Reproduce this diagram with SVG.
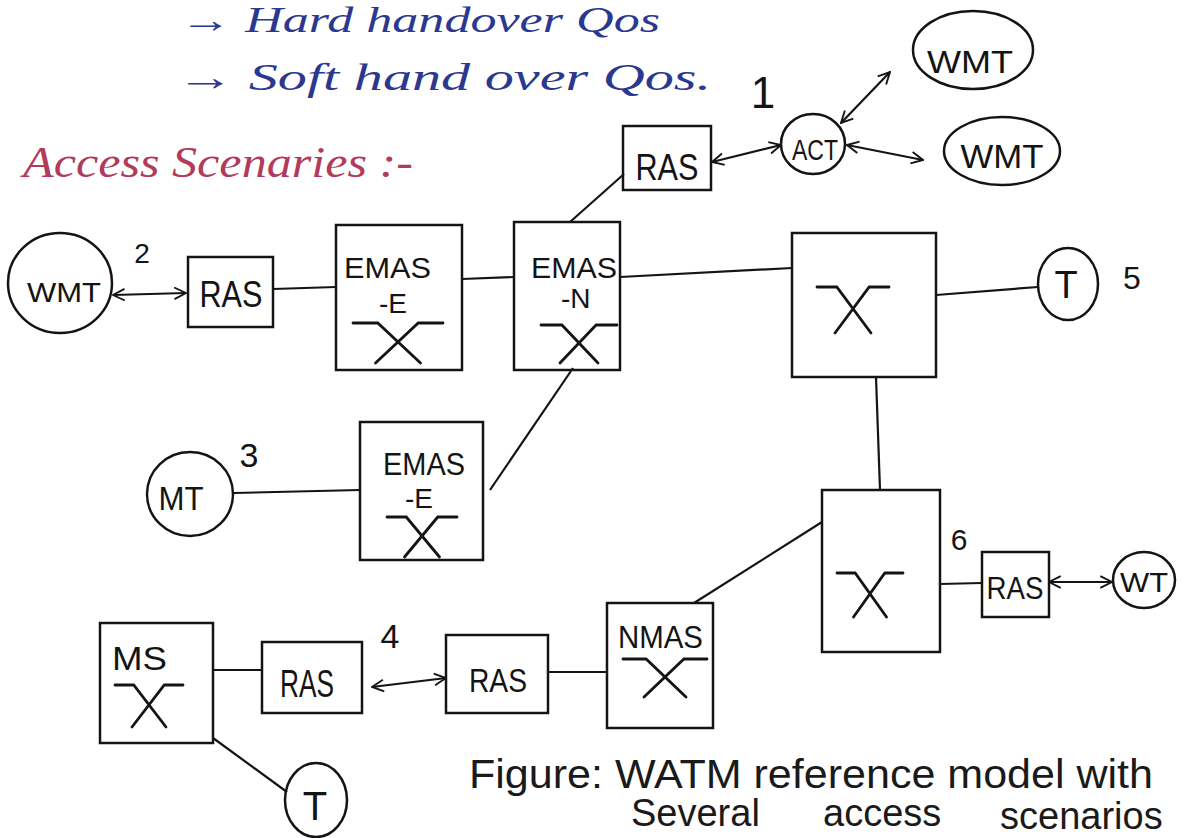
<svg xmlns="http://www.w3.org/2000/svg" width="1190" height="838" viewBox="0 0 1190 838">
<style>
.box{fill:none;stroke:#141414;stroke-width:2.5}
.ln{fill:none;stroke:#141414;stroke-width:2.2}
.lbl{font-family:"Liberation Sans",Arial,sans-serif;fill:#141414}
.hand{font-family:"Liberation Serif","DejaVu Serif",serif;font-style:italic}
.blue{fill:#2b3890}
.red{fill:#b23a5a}
.cap{font-family:"Liberation Sans",Arial,sans-serif;fill:#1a1a1a}
</style>
<defs>
<marker id="ah" viewBox="0 0 12 12" refX="11" refY="6" markerWidth="14" markerHeight="14" markerUnits="userSpaceOnUse" orient="auto-start-reverse">
<path d="M1,1 L11,6 L1,11" fill="none" stroke="#141414" stroke-width="1.6"/>
</marker>
<path id="sw" d="M-1,-1 H-0.45 L0.5,1 M1,-1 H0.45 L-0.5,1" fill="none" stroke="#141414" stroke-width="2.8" stroke-linecap="round" vector-effect="non-scaling-stroke"/>
</defs>
<rect width="1190" height="838" fill="#ffffff"/>
<g id="header">
<text class="hand blue" x="180" y="32" font-size="36" textLength="480" lengthAdjust="spacingAndGlyphs">→ Hard handover Qos</text>
<text class="hand blue" x="176" y="90" font-size="38" textLength="535" lengthAdjust="spacingAndGlyphs">→ Soft hand over Qos.</text>
<text class="hand red" x="23" y="177" font-size="44" textLength="390" lengthAdjust="spacingAndGlyphs">Access Scenaries :-</text>
</g>
<g id="connectors">
<line class="ln" x1="712" y1="162" x2="781" y2="145" marker-start="url(#ah)" marker-end="url(#ah)"/>
<line class="ln" x1="841" y1="123" x2="890" y2="72" marker-start="url(#ah)" marker-end="url(#ah)"/>
<line class="ln" x1="847" y1="145" x2="923" y2="160" marker-start="url(#ah)" marker-end="url(#ah)"/>
<line class="ln" x1="113" y1="295" x2="186" y2="293" marker-start="url(#ah)" marker-end="url(#ah)"/>
<line class="ln" x1="273" y1="289" x2="336" y2="287"/>
<line class="ln" x1="462" y1="279" x2="514" y2="277"/>
<line class="ln" x1="570" y1="222" x2="624" y2="174"/>
<line class="ln" x1="620" y1="277" x2="792" y2="268"/>
<line class="ln" x1="936" y1="295" x2="1038" y2="287"/>
<line class="ln" x1="876" y1="377" x2="880" y2="490"/>
<line class="ln" x1="940" y1="584" x2="982" y2="583"/>
<line class="ln" x1="1049" y1="582" x2="1112" y2="582" marker-start="url(#ah)" marker-end="url(#ah)"/>
<line class="ln" x1="694" y1="603" x2="822" y2="522"/>
<line class="ln" x1="548" y1="672" x2="607" y2="672"/>
<line class="ln" x1="372" y1="687" x2="446" y2="678" marker-start="url(#ah)" marker-end="url(#ah)"/>
<line class="ln" x1="213" y1="670" x2="262" y2="670"/>
<line class="ln" x1="213" y1="738" x2="287" y2="792"/>
<line class="ln" x1="234" y1="493" x2="360" y2="490"/>
<line class="ln" x1="490" y1="490" x2="573" y2="368"/>
</g>
<g id="ras-top"><rect class="box" x="623" y="126" width="88" height="64"/><text class="lbl" x="667" y="180" font-size="36" text-anchor="middle" textLength="63" lengthAdjust="spacingAndGlyphs">RAS</text></g>
<g id="act"><ellipse class="box" cx="813" cy="144" rx="32" ry="30"/><text class="lbl" x="815" y="160" font-size="30" text-anchor="middle" textLength="46" lengthAdjust="spacingAndGlyphs">ACT</text></g>
<g id="label-1"><text class="lbl" x="763" y="108" font-size="44" text-anchor="middle">1</text></g>
<g id="wmt-top"><ellipse class="box" cx="973" cy="50" rx="60" ry="39"/><text class="lbl" x="970" y="73" font-size="32" text-anchor="middle" textLength="86" lengthAdjust="spacingAndGlyphs">WMT</text></g>
<g id="wmt-mid"><ellipse class="box" cx="1002" cy="151" rx="58" ry="34"/><text class="lbl" x="1002" y="168" font-size="34" text-anchor="middle" textLength="83" lengthAdjust="spacingAndGlyphs">WMT</text></g>
<g id="wmt-left"><ellipse class="box" cx="60" cy="283" rx="52" ry="50"/><text class="lbl" x="64" y="302" font-size="28" text-anchor="middle" textLength="74" lengthAdjust="spacingAndGlyphs">WMT</text></g>
<g id="label-2"><text class="lbl" x="142" y="263" font-size="28" text-anchor="middle">2</text></g>
<g id="ras-1"><rect class="box" x="188" y="257" width="85" height="70"/><text class="lbl" x="231" y="307" font-size="36" text-anchor="middle" textLength="63" lengthAdjust="spacingAndGlyphs">RAS</text></g>
<g id="emas-e1"><rect class="box" x="336" y="225" width="126" height="145"/><text class="lbl" x="344" y="278" font-size="30" textLength="87" lengthAdjust="spacingAndGlyphs">EMAS</text><text class="lbl" x="379" y="313" font-size="28">-E</text><use href="#sw" transform="translate(398,343) scale(45,20)"/></g>
<g id="emas-n"><rect class="box" x="514" y="222" width="106" height="148"/><text class="lbl" x="531" y="278" font-size="30" textLength="86" lengthAdjust="spacingAndGlyphs">EMAS</text><text class="lbl" x="561" y="308" font-size="28">-N</text><use href="#sw" transform="translate(579,344) scale(38,19)"/></g>
<g id="switch-1"><rect class="box" x="792" y="233" width="144" height="144"/><use href="#sw" transform="translate(853,310) scale(36,23)"/></g>
<g id="t-right"><ellipse class="box" cx="1068" cy="284" rx="30" ry="36"/><text class="lbl" x="1066" y="298" font-size="38" text-anchor="middle">T</text></g>
<g id="label-5"><text class="lbl" x="1132" y="289" font-size="32" text-anchor="middle">5</text></g>
<g id="mt"><ellipse class="box" cx="190" cy="494" rx="43" ry="42"/><text class="lbl" x="181" y="510" font-size="34" text-anchor="middle" textLength="45" lengthAdjust="spacingAndGlyphs">MT</text></g>
<g id="label-3"><text class="lbl" x="249" y="467" font-size="34" text-anchor="middle">3</text></g>
<g id="emas-e2"><rect class="box" x="360" y="422" width="123" height="138"/><text class="lbl" x="383" y="475" font-size="32" textLength="82" lengthAdjust="spacingAndGlyphs">EMAS</text><text class="lbl" x="405" y="508" font-size="28">-E</text><use href="#sw" transform="translate(422,537) scale(35,20)"/></g>
<g id="switch-2"><rect class="box" x="822" y="490" width="118" height="162"/><use href="#sw" transform="translate(870,595) scale(33,22)"/></g>
<g id="label-6"><text class="lbl" x="959" y="550" font-size="30" text-anchor="middle">6</text></g>
<g id="ras-wt"><rect class="box" x="982" y="552" width="67" height="65"/><text class="lbl" x="1015" y="599" font-size="32" text-anchor="middle" textLength="57" lengthAdjust="spacingAndGlyphs">RAS</text></g>
<g id="wt"><ellipse class="box" cx="1144" cy="580" rx="31" ry="28"/><text class="lbl" x="1144" y="592" font-size="28" text-anchor="middle" textLength="48" lengthAdjust="spacingAndGlyphs">WT</text></g>
<g id="nmas"><rect class="box" x="607" y="603" width="106" height="125"/><text class="lbl" x="618" y="648" font-size="31" textLength="85" lengthAdjust="spacingAndGlyphs">NMAS</text><use href="#sw" transform="translate(665,678) scale(42,19)"/></g>
<g id="ras-3"><rect class="box" x="446" y="635" width="102" height="78"/><text class="lbl" x="498" y="692" font-size="34" text-anchor="middle" textLength="58" lengthAdjust="spacingAndGlyphs">RAS</text></g>
<g id="label-4"><text class="lbl" x="390" y="648" font-size="34" text-anchor="middle">4</text></g>
<g id="ras-2"><rect class="box" x="262" y="642" width="100" height="71"/><text class="lbl" x="307" y="697" font-size="38" text-anchor="middle" textLength="54" lengthAdjust="spacingAndGlyphs">RAS</text></g>
<g id="ms"><rect class="box" x="100" y="623" width="113" height="120"/><text class="lbl" x="112" y="670" font-size="34" textLength="55" lengthAdjust="spacingAndGlyphs">MS</text><use href="#sw" transform="translate(149,706) scale(34,21)"/></g>
<g id="t-bottom"><ellipse class="box" cx="316" cy="800" rx="31" ry="37"/><text class="lbl" x="315" y="820" font-size="40" text-anchor="middle">T</text></g>
<g id="caption">
<text class="cap" x="469" y="788" font-size="40" textLength="684" lengthAdjust="spacingAndGlyphs">Figure: WATM reference model with</text>
<text class="cap" font-size="38"><tspan x="631" y="826">Several</tspan><tspan x="823" y="826">access</tspan><tspan x="1000" y="829">scenarios</tspan></text>
</g>
</svg>
